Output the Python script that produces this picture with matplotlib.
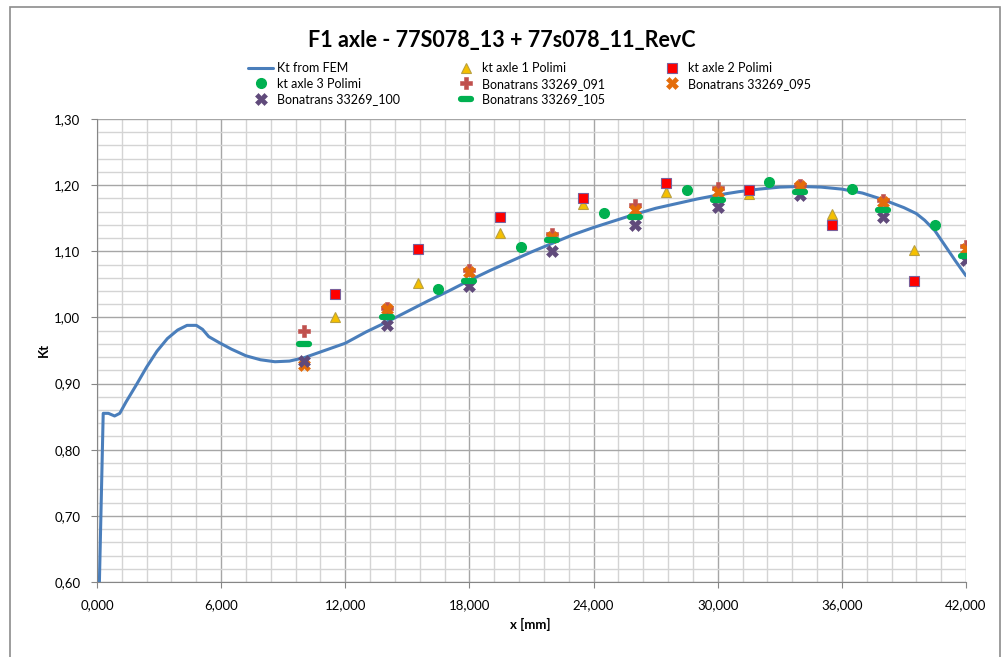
import numpy as np
import matplotlib
matplotlib.use("Agg")
import matplotlib.pyplot as plt
from matplotlib.markers import MarkerStyle
from matplotlib.patches import Rectangle
from matplotlib.ticker import MultipleLocator, FuncFormatter

plt.rcParams['font.family'] = ['Lato', 'DejaVu Sans']

# Kt from FEM along the axle
fem_x = [0.08, 0.30, 0.55, 0.85, 1.1, 1.4, 1.9, 2.4, 2.9, 3.4, 3.9, 4.35, 4.8, 5.1,
         5.4, 5.9, 6.5, 7.2, 7.9, 8.6, 9.3, 10.0, 11.0, 12.0, 13.0, 14.0, 15.0, 16.0,
         17.0, 18.0, 19.0, 20.0, 21.0, 22.0, 23.0, 24.0, 25.0, 26.0, 27.0, 28.0, 29.0,
         30.0, 31.0, 32.0, 33.0, 34.0, 35.0, 36.0, 37.0, 38.0, 39.0, 39.6, 40.0, 40.5,
         41.0, 41.5, 42.0]
fem_kt = [0.55, 0.855, 0.855, 0.851, 0.855, 0.872, 0.898, 0.925, 0.949, 0.968, 0.981,
          0.988, 0.988, 0.982, 0.971, 0.962, 0.952, 0.942, 0.936, 0.933, 0.934, 0.939,
          0.950, 0.961, 0.978, 0.993, 1.009, 1.025, 1.040, 1.056, 1.071, 1.085, 1.099,
          1.112, 1.125, 1.136, 1.146, 1.156, 1.165, 1.172, 1.179, 1.185, 1.190, 1.194,
          1.197, 1.198, 1.197, 1.194, 1.188, 1.178, 1.166, 1.157, 1.147, 1.131, 1.108,
          1.085, 1.063]

# Polimi measurements
polimi_12_x = [11.5, 15.5, 19.5, 23.5, 27.5, 31.5, 35.5, 39.5]
axle1_kt = [1.000, 1.052, 1.128, 1.171, 1.190, 1.187, 1.156, 1.102]
axle2_kt = [1.035, 1.103, 1.152, 1.180, 1.203, 1.192, 1.139, 1.055]
polimi_3_x = [16.5, 20.5, 24.5, 28.5, 32.5, 36.5, 40.5]
axle3_kt = [1.043, 1.106, 1.158, 1.193, 1.204, 1.194, 1.139]

# Bonatrans measurements
bona_x = [10.0, 14.0, 18.0, 22.0, 26.0, 30.0, 34.0, 38.0, 42.0]
bona_091 = [0.980, 1.015, 1.071, 1.126, 1.170, 1.195, 1.200, 1.178, 1.108]
bona_095 = [0.928, 1.012, 1.068, 1.122, 1.163, 1.189, 1.198, 1.175, 1.103]
bona_100 = [0.934, 0.988, 1.047, 1.101, 1.139, 1.167, 1.185, 1.152, 1.087]
bona_105 = [0.960, 1.001, 1.055, 1.117, 1.152, 1.177, 1.189, 1.163, 1.093]

W, H = 1002, 657
fig = plt.figure(figsize=(W / 100, H / 100), dpi=100)
fig.patches.append(Rectangle((10 / W, -0.1), 990 / W, 1.1 - 7 / H, transform=fig.transFigure,
                             fill=False, edgecolor='#8c8c8c', linewidth=1.2))

ax = fig.add_axes([97 / W, 1 - 582 / H, 869 / W, 463 / H])
ax.set_xlim(0, 42)
ax.set_ylim(0.60, 1.30)

ax.xaxis.set_major_locator(MultipleLocator(6))
ax.xaxis.set_minor_locator(MultipleLocator(1.2))
ax.yaxis.set_major_locator(MultipleLocator(0.1))
ax.yaxis.set_minor_locator(MultipleLocator(0.02))
ax.grid(which='minor', color='#d4d4d4', linewidth=1.0)
ax.grid(which='major', color='#a6a6a6', linewidth=1.0)
ax.set_axisbelow(True)
for side in ['top', 'right']:
    ax.spines[side].set_visible(False)
for side in ['left', 'bottom']:
    ax.spines[side].set_color('#868686')
ax.tick_params(which='minor', length=0)
ax.tick_params(which='major', length=4, color='#868686', labelsize=9.5)
ax.tick_params(axis='x', pad=8)
ax.tick_params(axis='y', pad=8)
ax.xaxis.set_major_formatter(FuncFormatter(lambda v, p: f"{v:.3f}".replace('.', ',')))
ax.yaxis.set_major_formatter(FuncFormatter(lambda v, p: f"{v:.2f}".replace('.', ',')))

h_fem, = ax.plot(fem_x, fem_kt, color='#4a7ebb', linewidth=2.2, label='Kt from FEM',
                 solid_capstyle='round', zorder=3)
h_a1, = ax.plot(polimi_12_x, axle1_kt, ls='none', marker='^', ms=7.5, mfc='#f5c000',
                mec='#b9a040', mew=0.8, label='kt axle 1 Polimi', zorder=4)
h_a2, = ax.plot(polimi_12_x, axle2_kt, ls='none', marker='s', ms=7.5, mfc='#ff0000',
                mec='#7a5f9a', mew=0.8, label='kt axle 2 Polimi', zorder=4)
h_a3, = ax.plot(polimi_3_x, axle3_kt, ls='none', marker='o', ms=7, mfc='#00b050',
                mec='#00b050', label='kt axle 3 Polimi', zorder=4)
h_91, = ax.plot(bona_x, bona_091, ls='none', marker='P', ms=8, mfc='#c0504d',
                mec='#c0504d', mew=0.4, label='Bonatrans 33269_091', zorder=4)
h_95, = ax.plot(bona_x, bona_095, ls='none', marker='X', ms=8.5, mfc='#e46c0a',
                mec='#e46c0a', mew=0.4, label='Bonatrans 33269_095', zorder=4)
h_100, = ax.plot(bona_x, bona_100, ls='none', marker='X', ms=8.5, mfc='#604a7b',
                 mec='#604a7b', mew=0.4, label='Bonatrans 33269_100', zorder=5)
dash = MarkerStyle('_', capstyle='round')
h_105, = ax.plot(bona_x, bona_105, ls='none', marker=dash, ms=7, mec='#00b050',
                 mew=4.5, label='Bonatrans 33269_105', zorder=6)

handles = [h_fem, h_a3, h_100, h_a1, h_91, h_105, h_a2, h_95]
fig.legend(handles=handles, labels=[h.get_label() for h in handles], ncol=3,
           loc='upper left', bbox_to_anchor=(248 / W, 1 - 62 / H), frameon=False,
           fontsize=9, handlelength=2.0, handletextpad=0.3, columnspacing=4.3,
           labelspacing=0.3, borderpad=0, borderaxespad=0)

fig.text(502 / W, 1 - 40 / H, 'F1 axle - 77S078_13 + 77s078_11_RevC', ha='center',
         va='center', fontsize=15.5, fontweight='bold')
fig.text(530 / W, 1 - 624 / H, 'x [mm]', ha='center', va='center', fontsize=9.5,
         fontweight='bold')
fig.text(44 / W, 1 - 350 / H, 'Kt', ha='center', va='center', fontsize=9.5,
         fontweight='bold', rotation=90)

fig.savefig('out.png', dpi=100)
